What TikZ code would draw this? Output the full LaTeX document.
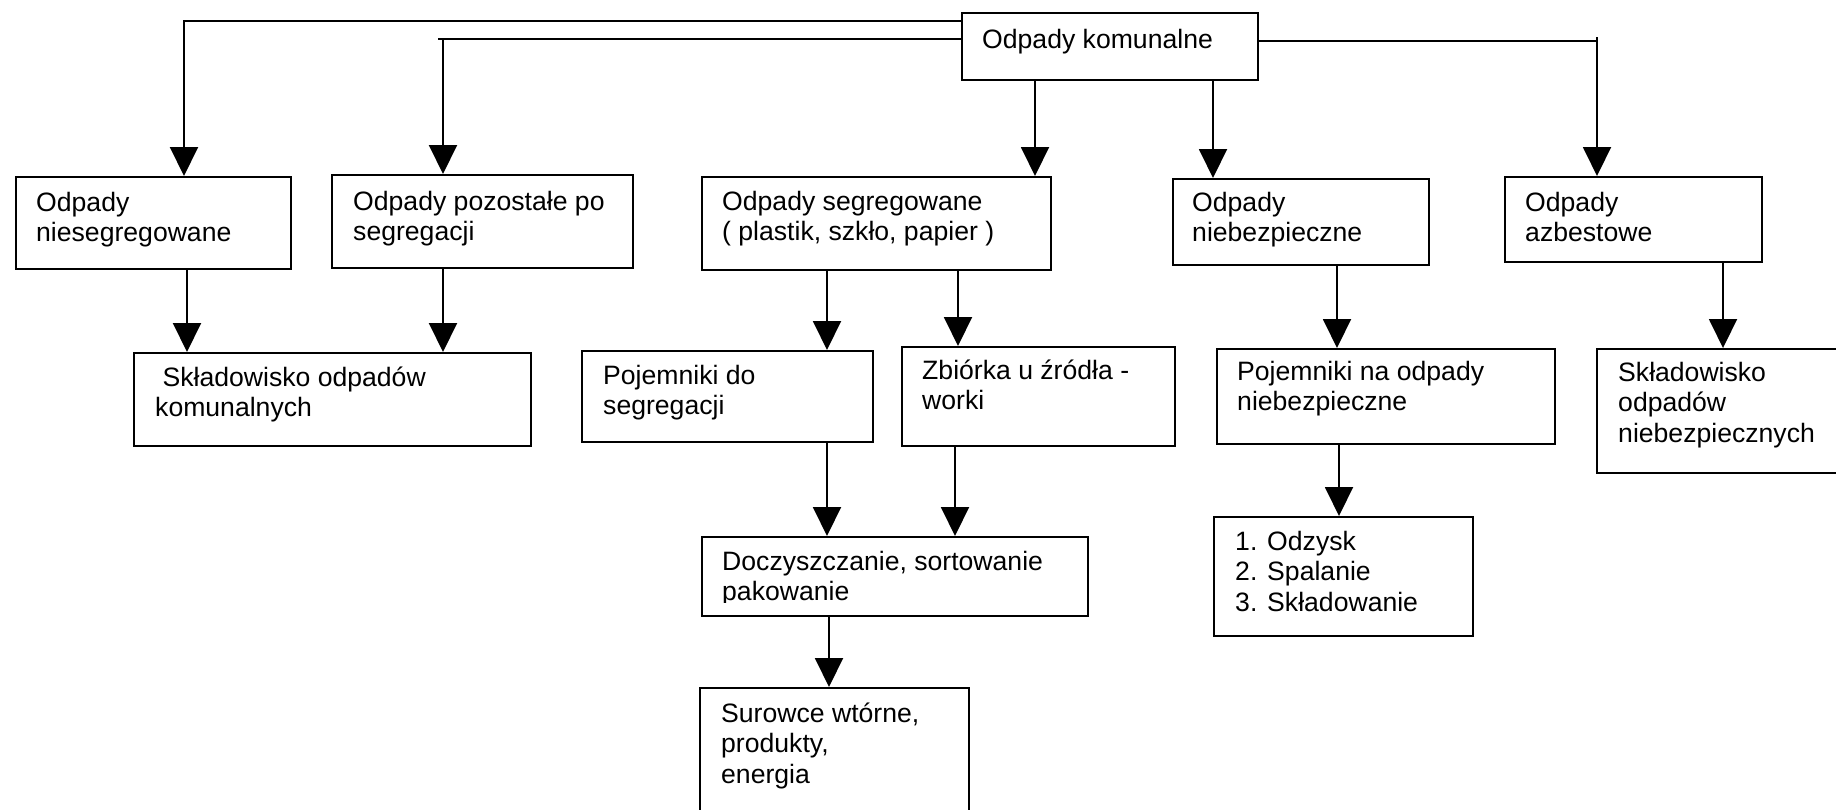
\documentclass[tikz,border=0pt]{standalone}
\usepackage{fontspec}
\setmainfont{Liberation Sans}
\usetikzlibrary{arrows.meta}
\tikzset{
  box/.style={draw, line width=1.8pt, inner sep=0pt, anchor=north west},
  txt/.style={anchor=north west, inner sep=0pt, align=left,
    font=\fontsize{26.6pt}{30.5pt}\selectfont, execute at begin node=\strut},
  conn/.style={line width=2pt},
  arr/.style={line width=2pt, -{Triangle[length=29pt,width=28pt]}}
}
\begin{document}
\begin{tikzpicture}[x=1pt,y=-1pt]
\path[use as bounding box] (0,0) rectangle (1836,809);
\clip (0,0) rectangle (1836,809);
% boxes
\node[box, minimum width=296pt, minimum height=67pt] (kom) at (961,12) {};
\node[box, minimum width=275pt, minimum height=92pt] (nies) at (15,176) {};
\node[box, minimum width=301pt, minimum height=93pt] (poz) at (331,174) {};
\node[box, minimum width=349pt, minimum height=93pt] (seg) at (701,176) {};
\node[box, minimum width=256pt, minimum height=86pt] (nieb) at (1172,178) {};
\node[box, minimum width=257pt, minimum height=85pt] (azb) at (1504,176) {};
\node[box, minimum width=397pt, minimum height=93pt] (skl) at (133,352) {};
\node[box, minimum width=291pt, minimum height=91pt] (poj) at (581,350) {};
\node[box, minimum width=273pt, minimum height=99pt] (zb) at (901,346) {};
\node[box, minimum width=338pt, minimum height=95pt] (pojn) at (1216,348) {};
\node[box, minimum width=260pt, minimum height=124pt] (skn) at (1596,348) {};
\node[box, minimum width=386pt, minimum height=79pt] (docz) at (701,536) {};
\node[box, minimum width=259pt, minimum height=119pt] (list) at (1213,516) {};
\node[box, minimum width=269pt, minimum height=140pt] (sur) at (699,687) {};
% texts
\node[txt] (kom-t) at (982,26.65) {Odpady komunalne};
\node[txt] (nies-t) at (36,191.65) {Odpady\\niesegregowane};
\node[txt] (poz-t) at (353,190.65) {Odpady pozostałe po\\segregacji};
\node[txt] (seg-t) at (722,190.65) {Odpady segregowane\\( plastik, szkło, papier )};
\node[txt] (nieb-t) at (1192,191.65) {Odpady\\niebezpieczne};
\node[txt] (azb-t) at (1525,191.65) {Odpady\\azbestowe};
\node[txt] (skl-t) at (155,366.65) {\hspace{7.4pt}Składowisko odpadów\\komunalnych};
\node[txt] (poj-t) at (603,364.65) {Pojemniki do\\segregacji};
\node[txt] (zb-t) at (922,359.65) {Zbiórka u źródła -\\worki};
\node[txt] (pojn-t) at (1237,360.65) {Pojemniki na odpady\\niebezpieczne};
\node[txt] (skn-t) at (1618,361.65) {Składowisko\\odpadów\\niebezpiecznych};
\begin{scope}
\clip (701,536) rectangle (1087,602);
\node[txt] (docz-t) at (722,550.65) {Doczyszczanie, sortowanie\\pakowanie};
\end{scope}
\node[txt] (list-t) at (1235,530.65) {1. Odzysk\\2. Spalanie\\3. Składowanie};
\node[txt] (sur-t) at (721,702.65) {Surowce wtórne,\\produkty,\\energia};
% top connectors
\coordinate (c2) at (438,39);
\coordinate (c3) at (1597,37);
\draw[arr] ([yshift=-9pt]kom.north west) -| ([xshift=169pt]nies.north west);
\draw[conn, line width=2.6pt] ([yshift=-27pt]kom.north west) -- (c2);
\draw[arr] ([xshift=5pt]c2) -- ([xshift=112pt]poz.north west);
\draw[conn] ([yshift=-29pt]kom.north east) -| (c3);
\draw[arr] (c3) -- ([xshift=93pt]azb.north west);
\draw[arr] ([xshift=74pt]kom.south west) -- ([xshift=334pt]seg.north west);
\draw[arr] ([xshift=252pt]kom.south west) -- ([xshift=41pt]nieb.north west);
% lower connectors
\draw[arr] ([xshift=172pt]nies.south west) -- ([xshift=54pt]skl.north west);
\draw[arr] ([xshift=112pt]poz.south west) -- ([xshift=310pt]skl.north west);
\draw[arr] ([xshift=126pt]seg.south west) -- ([xshift=246pt]poj.north west);
\draw[arr] ([xshift=257pt]seg.south west) -- ([xshift=57pt]zb.north west);
\draw[arr] ([xshift=246pt]poj.south west) -- ([xshift=126pt]docz.north west);
\draw[arr] ([xshift=54pt]zb.south west) -- ([xshift=254pt]docz.north west);
\draw[arr] ([xshift=128pt]docz.south west) -- ([xshift=130pt]sur.north west);
\draw[arr] ([xshift=165pt]nieb.south west) -- ([xshift=121pt]pojn.north west);
\draw[arr] ([xshift=123pt]pojn.south west) -- ([xshift=126pt]list.north west);
\draw[arr] ([xshift=219pt]azb.south west) -- ([xshift=127pt]skn.north west);
\end{tikzpicture}
\end{document}
